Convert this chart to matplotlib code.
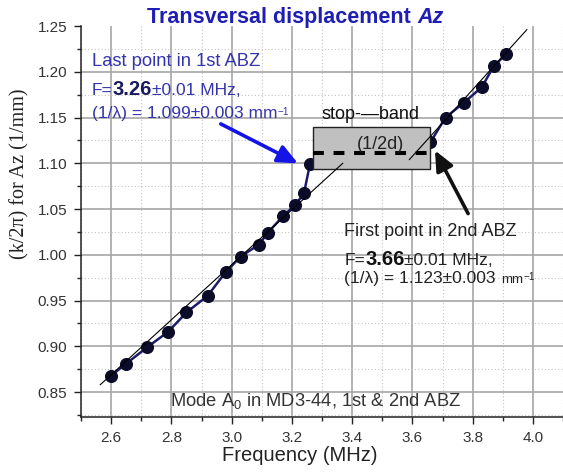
import matplotlib
matplotlib.use("Agg")
import matplotlib.pyplot as plt
from matplotlib.ticker import MultipleLocator
from matplotlib.patches import Rectangle

plt.rcParams['font.family'] = ['Liberation Sans', 'DejaVu Sans']
plt.rcParams['mathtext.fontset'] = 'custom'
plt.rcParams['mathtext.rm'] = 'Liberation Sans'
plt.rcParams['mathtext.it'] = 'Liberation Sans:italic'
plt.rcParams['mathtext.bf'] = 'Liberation Sans:bold'

# measured dispersion points, mode A0 (first and second ABZ)
freq_abz1 = [2.60, 2.65, 2.72, 2.79, 2.85, 2.92, 2.98, 3.03, 3.09, 3.12, 3.17, 3.21, 3.24, 3.26]
k_abz1 = [0.868, 0.881, 0.899, 0.916, 0.937, 0.955, 0.981, 0.998, 1.011, 1.024, 1.042, 1.054, 1.067, 1.099]
freq_abz2 = [3.66, 3.71, 3.77, 3.83, 3.87, 3.91]
k_abz2 = [1.123, 1.150, 1.166, 1.183, 1.206, 1.219]

# straight reference lines for each zone
ref1_freq = [2.564, 3.369]
ref1_k = [0.858, 1.100]
ref2_freq = [3.59, 3.98]
ref2_k = [1.104, 1.246]

# stop band and the 1/2d level
band_freq = [3.269, 3.658]
band_k = [1.094, 1.140]
half_2d = 1.111

last_abz1 = (3.22, 1.0999)
first_abz2 = (3.675, 1.114)

x_ticks = [2.6, 2.8, 3.0, 3.2, 3.4, 3.6, 3.8, 4.0]
y_ticks = [0.85, 0.90, 0.95, 1.00, 1.05, 1.10, 1.15, 1.20, 1.25]

W, H = 563, 473
fig = plt.figure(figsize=(W / 100, H / 100), dpi=100)
ax = fig.add_axes([81 / W, 56 / H, (W - 81) / W, 391 / H])
ax.set_xlim(2.5, 4.1)
ax.set_ylim(0.8227, 1.25)

ax.set_xticks(x_ticks)
ax.set_xticklabels([f"{v:.1f}" for v in x_ticks])
ax.set_yticks(y_ticks)
ax.set_yticklabels([f"{v:.2f}" for v in y_ticks])
ax.xaxis.set_minor_locator(MultipleLocator(0.1))
ax.yaxis.set_minor_locator(MultipleLocator(0.025))
ax.tick_params(which='major', direction='out', length=5, width=1, color='#222222',
               labelsize=11, labelcolor='#333333', pad=5)
ax.tick_params(which='minor', direction='out', length=3, width=1, color='#222222')
for side in ('top', 'right'):
    ax.spines[side].set_visible(False)
for side in ('left', 'bottom'):
    ax.spines[side].set_color('#222222')
    ax.spines[side].set_linewidth(1.1)

ax.set_axisbelow(True)
ax.grid(which='major', color='#a6a6a6', lw=1.2, ls='-')
ax.grid(which='minor', color='#c4c4c4', lw=0.8, ls=(0, (1, 2)))
# no horizontal grid line along the top edge
ax.yaxis.get_major_ticks()[-1].gridline.set_visible(False)

# data
ax.plot(freq_abz1, k_abz1, color='#1b1b6b', lw=1.8, marker='o', ms=8.4,
        mfc='#0b0b2a', mec='#0b0b2a', zorder=2)
ax.plot(freq_abz2, k_abz2, color='#1b1b6b', lw=1.8, marker='o', ms=8.4,
        mfc='#0b0b2a', mec='#0b0b2a', zorder=2)

# stop band box
ax.add_patch(Rectangle((band_freq[0], band_k[0]), band_freq[1] - band_freq[0],
                       band_k[1] - band_k[0], facecolor='#c0c0c0',
                       edgecolor='#222222', lw=1.0, zorder=3))
ax.plot(band_freq, [half_2d, half_2d], color='black', lw=2.9,
        ls=(0, (2.7, 2.4)), dash_capstyle='butt', zorder=4)

ax.plot(ref1_freq, ref1_k, color='black', lw=0.8, zorder=4)
ax.plot(ref2_freq, ref2_k, color='black', lw=0.8, zorder=4)

# arrows
ax.annotate("", xy=last_abz1, xytext=(2.964, 1.143),
            arrowprops=dict(arrowstyle="-|>,head_length=1.0,head_width=0.45",
                            lw=2.6, color='#1414e6', mutation_scale=12,
                            shrinkA=0, shrinkB=0), zorder=5)
ax.annotate("", xy=first_abz2, xytext=(3.785, 1.045),
            arrowprops=dict(arrowstyle="-|>,head_length=1.0,head_width=0.45",
                            lw=2.6, color='#111111', mutation_scale=12,
                            shrinkA=0, shrinkB=0), zorder=5)

renderer = fig.canvas.get_renderer()


def text_runs(x, y, parts, ha='left', **common):
    """Draw several differently styled pieces of text on one baseline."""
    texts = []
    for s, props in parts:
        kw = dict(common)
        kw.update(props)
        t = ax.text(x, y, s, ha='left', va='baseline', clip_on=False, **kw)
        texts.append(t)
    widths = [t.get_window_extent(renderer).width for t in texts]
    x0, y0 = ax.transData.transform((x, y))
    if ha == 'center':
        x0 -= sum(widths) / 2
    inv = ax.transData.inverted()
    for t, w in zip(texts, widths):
        t.set_position(inv.transform((x0, y0)))
        x0 += w
    return texts


# title
text_runs(3.212, 1.2533, [("Transversal displacement ", {}),
                          ("Az", {'style': 'italic'})],
          ha='center', fontsize=15.5, fontweight='bold', color='#1e1eb4')

blue = '#3434ad'
x_left = 2.535
text_runs(x_left, 1.2059, [("Last point in 1st ABZ", {})], fontsize=13.2, color=blue)
text_runs(x_left, 1.1751, [("F=", {}),
                           ("3.26", {'fontweight': 'bold', 'fontsize': 14.5, 'color': '#1a1a60'}),
                           ("±0.01 MHz,", {})], fontsize=12.5, color=blue)
text_runs(x_left, 1.1497, [("(1/λ) = 1.099±0.003 mm", {}),
                           (r"$^{-1}$", {'fontsize': 10})], fontsize=12.5, color=blue)

dark = '#222222'
text_runs(3.374, 1.0206, [("First point in 2nd ABZ", {})], fontsize=13, color=dark)
text_runs(3.374, 0.9891, [("F=", {}),
                          ("3.66", {'fontweight': 'bold', 'fontsize': 14.5, 'color': '#111111'}),
                          ("±0.01 MHz,", {})], fontsize=12.5, color=dark)
text_runs(3.374, 0.9696, [("(1/λ) = 1.123±0.003 ", {}),
                          ("mm", {'fontsize': 9.5}),
                          (r"$^{-1}$", {'fontsize': 10})], fontsize=12.5, color=dark)

text_runs(3.461, 1.148, [("stop-—band", {})], ha='center', fontsize=13, color='#111111')
ax.text(3.493, 1.116, "(1/2d)", ha='center', va='baseline', fontsize=13,
        color='#222222', zorder=6)

ax.text(2.797, 0.8347, r"Mode A$_{0}$ in MD3-44, 1st & 2nd ABZ", ha='left',
        va='baseline', fontsize=13.2, color='#333333')

fig.text(300 / W, (H - 461) / H, "Frequency (MHz)", ha='center', va='baseline',
         fontsize=14.5, color='#222222')
fig.text(20 / W, (H - 173.5) / H, "(k/2π) for Az (1/mm)", rotation=90,
         ha='center', va='center', fontsize=14.5, color='#222222',
         family=['Liberation Serif', 'DejaVu Serif'])

fig.savefig("out.png", dpi=100, facecolor='white')
